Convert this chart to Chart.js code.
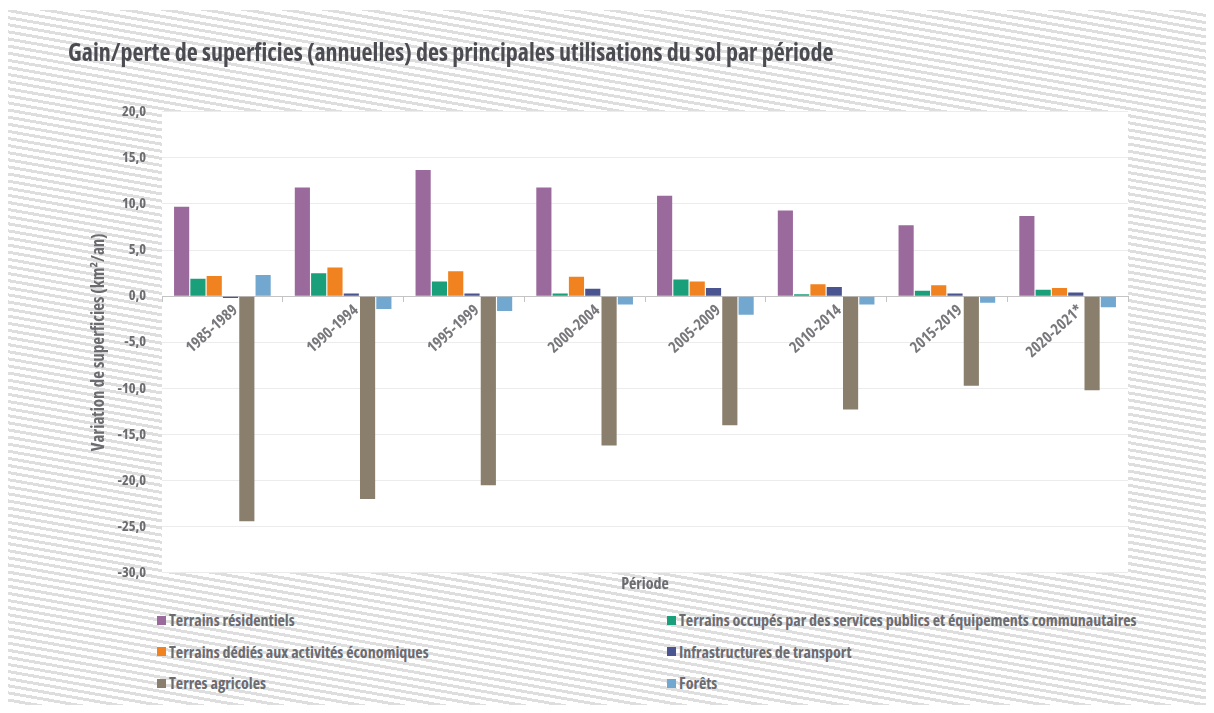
<!DOCTYPE html>
<html>
<head>
<meta charset="utf-8">
<script src="https://cdn.jsdelivr.net/npm/chart.js@4.4.1/dist/chart.umd.min.js"></script>
<style>
  html, body { margin: 0; padding: 0; background: #fff; width: 1214px; height: 713px; overflow: hidden; }
  #frame {
    position: absolute; left: 8px; top: 10px; width: 1198px; height: 695px;
    background: repeating-linear-gradient(190deg, #fff 0px, #fff 4px, #dedede 4px, #dedede 7px);
  }
  #wrap { position: absolute; left: 0; top: 0; width: 1214px; height: 600px; }
  #legend {
    position: absolute; left: 157px; top: 610px; width: 1040px;
    display: grid; grid-template-columns: 510px 530px; grid-auto-rows: 31.5px;
    font-family: 'Open Sans', 'DejaVu Sans Condensed', sans-serif;
    font-stretch: condensed;
    font-weight: bold; font-size: 16px; color: #6b6b70; white-space: nowrap;
  }
  #legend .item { display: flex; align-items: center; height: 20px; }
  #legend .box { width: 9px; height: 9px; margin-right: 3px; }
</style>
</head>
<body>
<div id="frame"></div>
<div id="wrap"><canvas id="chart" width="1214" height="600"></canvas></div>
<div id="legend"></div>
<script>
const periods = ['1985-1989', '1990-1994', '1995-1999', '2000-2004', '2005-2009', '2010-2014', '2015-2019', '2020-2021*'];
const residentiels = [9.7, 11.8, 13.7, 11.8, 10.9, 9.3, 7.7, 8.7];
const servicesPublics = [1.9, 2.5, 1.6, 0.3, 1.8, 0.2, 0.6, 0.7];
const activitesEco = [2.2, 3.1, 2.7, 2.1, 1.6, 1.3, 1.2, 0.9];
const transport = [-0.2, 0.3, 0.3, 0.8, 0.9, 1.0, 0.3, 0.4];
const agricoles = [-24.4, -22.0, -20.5, -16.2, -14.0, -12.3, -9.7, -10.2];
const forets = [2.3, -1.4, -1.6, -0.9, -2.0, -0.9, -0.7, -1.2];

const seriesNames = [
    'Terrains résidentiels',
    'Terrains occupés par des services publics et équipements communautaires',
    'Terrains dédiés aux activités économiques',
    'Infrastructures de transport',
    'Terres agricoles',
    'Forêts'
];
const seriesColors = ['#9b6a9d', '#199f79', '#f0821f', '#4a5491', '#8a7e6d', '#72a8d0'];
const seriesValues = [residentiels, servicesPublics, activitesEco, transport, agricoles, forets];

const narrow = "'Open Sans', 'DejaVu Sans Condensed', sans-serif";
// la largeur est glissée dans le poids pour que le canvas reçoive font-stretch
const boldCond = 'bold condensed';
const grey = '#6b6b70';

// fond blanc de la zone de tracé, les rayures restent autour
const plotBackground = {
    id: 'plotBackground',
    beforeDraw(chart) {
        const {ctx, chartArea} = chart;
        ctx.save();
        ctx.fillStyle = '#fff';
        ctx.fillRect(chartArea.left, chartArea.top, chartArea.right - chartArea.left, chartArea.bottom - chartArea.top);
        ctx.restore();
    }
};

const htmlLegend = {
    id: 'htmlLegend',
    afterUpdate(chart) {
        const box = document.getElementById('legend');
        box.innerHTML = '';
        chart.data.datasets.forEach(ds => {
            const item = document.createElement('div');
            item.className = 'item';
            const sw = document.createElement('span');
            sw.className = 'box';
            sw.style.background = ds.backgroundColor;
            const txt = document.createElement('span');
            txt.textContent = ds.label;
            item.appendChild(sw);
            item.appendChild(txt);
            box.appendChild(item);
        });
    }
};

Chart.defaults.font.family = narrow;
Chart.defaults.font.weight = boldCond;
Chart.defaults.color = grey;

new Chart(document.getElementById('chart'), {
    type: 'bar',
    data: {
        labels: periods,
        datasets: seriesNames.map((name, i) => ({
            label: name,
            data: seriesValues[i],
            backgroundColor: seriesColors[i],
            borderWidth: 0,
            barPercentage: 0.93,
            categoryPercentage: 0.81
        }))
    },
    options: {
        responsive: false,
        animation: false,
        layout: { padding: { left: 68, right: 86, top: 10, bottom: 0 } },
        plugins: {
            legend: { display: false },
            tooltip: { enabled: false },
            title: {
                display: true,
                text: 'Gain/perte de superficies (annuelles) des principales utilisations du sol par période',
                align: 'start',
                color: '#4b4b52',
                font: { size: 24, weight: boldCond, family: narrow },
                padding: { top: 30, bottom: 43 }
            }
        },
        scales: {
            x: {
                position: { y: 0 },
                grid: { display: true, drawOnChartArea: false, drawTicks: true, tickLength: 5, color: '#c4c4c4' },
                border: { display: true, color: '#c4c4c4' },
                ticks: { minRotation: 42, maxRotation: 42, padding: 0, labelOffset: 13, color: '#77777c', font: { size: 15.5 } }
            },
            x2: {
                position: 'bottom',
                grid: { display: false, drawTicks: false },
                border: { display: false },
                ticks: { display: false },
                title: { display: true, text: 'Période', color: grey, font: { size: 16 }, padding: { top: 2, bottom: 6 } }
            },
            y: {
                min: -30,
                max: 20,
                ticks: {
                    stepSize: 5,
                    padding: 16,
                    font: { size: 14.5 },
                    callback: v => v.toFixed(1).replace('.', ',')
                },
                grid: { color: '#ececec', drawTicks: false },
                border: { display: false },
                title: { display: true, text: 'Variation de superficies (km²/an)', color: grey, font: { size: 17 }, padding: { top: 21, bottom: 0 } },
                afterFit(scale) { scale.width = 94; }
            }
        }
    },
    plugins: [plotBackground, htmlLegend]
});
</script>
</body>
</html>
